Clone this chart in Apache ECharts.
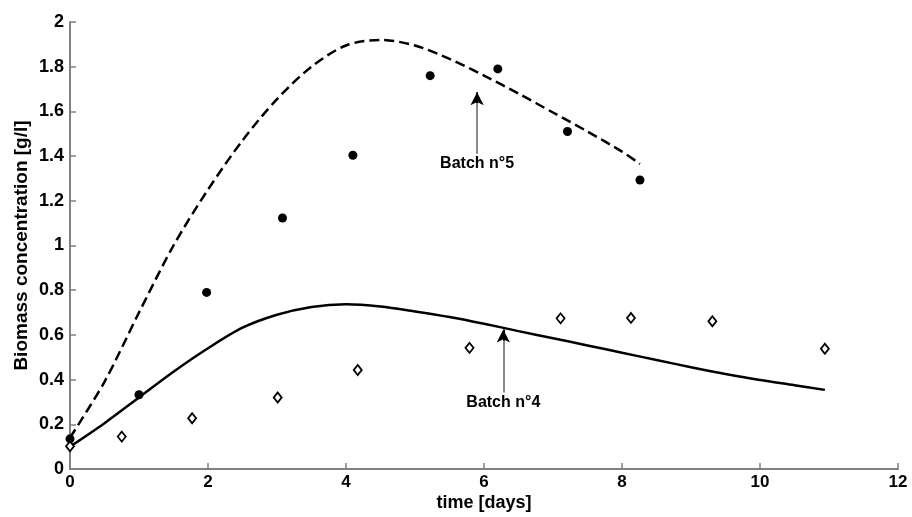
<!DOCTYPE html>
<html>
<head>
<meta charset="utf-8">
<script src="https://cdn.jsdelivr.net/npm/echarts@6/dist/echarts.min.js"></script>
<style>
  html, body { margin: 0; padding: 0; background: #fff; }
  #chart { width: 912px; height: 517px; }
</style>
</head>
<body>
<div id="chart"></div>
<script>
// model curve, batch n°5 (dashed)
const model5Time = [0, 0.5, 1.0, 1.5, 2.0, 2.5, 3.0, 3.5, 4.0, 4.5, 5.0, 5.5, 6.0, 6.5, 7.0, 7.5, 8.0, 8.26];
const model5Biomass = [0.14, 0.39, 0.70, 1.00, 1.25, 1.47, 1.655, 1.80, 1.895, 1.92, 1.895, 1.835, 1.76, 1.68, 1.595, 1.51, 1.42, 1.365];

// model curve, batch n°4 (solid)
const model4Time = [0, 0.5, 1.0, 1.5, 2.0, 2.5, 3.0, 3.5, 4.0, 4.5, 5.0, 5.5, 6.0, 6.5, 7.0, 7.5, 8.0, 8.5, 9.0, 9.5, 10.0, 10.5, 10.94];
const model4Biomass = [0.10, 0.205, 0.32, 0.435, 0.54, 0.632, 0.69, 0.725, 0.737, 0.727, 0.705, 0.68, 0.65, 0.617, 0.585, 0.553, 0.52, 0.488, 0.455, 0.425, 0.398, 0.375, 0.354];

// measurements
const batch5Time = [0, 1.0, 1.98, 3.08, 4.1, 5.22, 6.2, 7.21, 8.26];
const batch5Biomass = [0.135, 0.332, 0.79, 1.123, 1.404, 1.76, 1.79, 1.51, 1.293];
const batch4Time = [0, 0.75, 1.77, 3.01, 4.17, 5.79, 7.11, 8.13, 9.31, 10.94];
const batch4Biomass = [0.102, 0.145, 0.227, 0.32, 0.443, 0.542, 0.674, 0.676, 0.661, 0.538];

// annotations: [x, base y, tip y]
const arrow5 = [5.9, 1.41, 1.686];
const arrow4 = [6.28, 0.342, 0.624];

const zip = (xs, ys) => xs.map((x, i) => [x, ys[i]]);

const axisColor = '#808080';
const fontFamily = 'Liberation Sans, Arial, sans-serif';

function arrowLines(a, text) {
  const headLen = 0.05;
  return [
    [
      { coord: [a[0], a[1]], symbol: 'none',
        label: { show: true, position: 'start', formatter: text, distance: 2,
          color: '#000', fontWeight: 'bold', fontSize: 16, fontFamily: fontFamily },
        lineStyle: { color: '#8a8a8a', width: 2, type: 'solid' } },
      { coord: [a[0], a[2] - headLen], symbol: 'none' }
    ],
    [
      { coord: [a[0], a[2] - headLen], symbol: 'none', label: { show: false },
        lineStyle: { color: '#000', width: 2, type: 'solid' } },
      { coord: [a[0], a[2]], symbol: 'arrow', symbolSize: [10, 13] }
    ]
  ];
}

const chart = echarts.init(document.getElementById('chart'));

chart.setOption({
  animation: false,
  backgroundColor: '#fff',
  grid: { left: 70, right: 14, top: 22, bottom: 45 },
  xAxis: {
    type: 'value',
    min: 0, max: 12, interval: 2,
    name: 'time [days]',
    nameLocation: 'middle',
    nameGap: 25,
    nameMoveOverlap: false,
    nameTextStyle: { color: '#000', fontWeight: 'bold', fontSize: 18, fontFamily: fontFamily },
    axisLine: { lineStyle: { color: axisColor, width: 2 } },
    axisTick: { inside: true, length: 6, lineStyle: { color: axisColor, width: 1.5 } },
    axisLabel: { color: '#000', fontWeight: 'bold', fontSize: 17, margin: 5, fontFamily: fontFamily },
    splitLine: { show: false }
  },
  yAxis: {
    type: 'value',
    min: 0, max: 2, interval: 0.2,
    name: 'Biomass concentration [g/l]',
    nameLocation: 'middle',
    nameGap: 39,
    nameMoveOverlap: false,
    nameTextStyle: { color: '#000', fontWeight: 'bold', fontSize: 19, fontFamily: fontFamily },
    axisLine: { show: true, lineStyle: { color: axisColor, width: 2 } },
    axisTick: { show: true, inside: true, length: 6, lineStyle: { color: axisColor, width: 1.5 } },
    axisLabel: { color: '#000', fontWeight: 'bold', fontSize: 18, margin: 6, fontFamily: fontFamily },
    splitLine: { show: false }
  },
  series: [
    {
      name: 'Model n°5',
      type: 'line',
      smooth: 0.3,
      showSymbol: false,
      data: zip(model5Time, model5Biomass),
      lineStyle: { color: '#000', width: 2.5, type: [10, 5] },
      markLine: { silent: true, symbol: 'none', data: arrowLines(arrow5, 'Batch n°5') },
      z: 3
    },
    {
      name: 'Model n°4',
      type: 'line',
      smooth: 0.3,
      showSymbol: false,
      data: zip(model4Time, model4Biomass),
      lineStyle: { color: '#000', width: 2.5 },
      markLine: { silent: true, symbol: 'none', data: arrowLines(arrow4, 'Batch n°4') },
      z: 3
    },
    {
      name: 'Batch n°5',
      type: 'scatter',
      symbol: 'circle',
      symbolSize: 9,
      data: zip(batch5Time, batch5Biomass),
      itemStyle: { color: '#000', opacity: 1 },
      z: 4
    },
    {
      name: 'Batch n°4',
      type: 'scatter',
      symbol: 'diamond',
      symbolSize: [8, 10],
      data: zip(batch4Time, batch4Biomass),
      itemStyle: { color: '#fff', borderColor: '#000', borderWidth: 1.8, opacity: 1 },
      z: 4
    }
  ]
});
</script>
</body>
</html>
